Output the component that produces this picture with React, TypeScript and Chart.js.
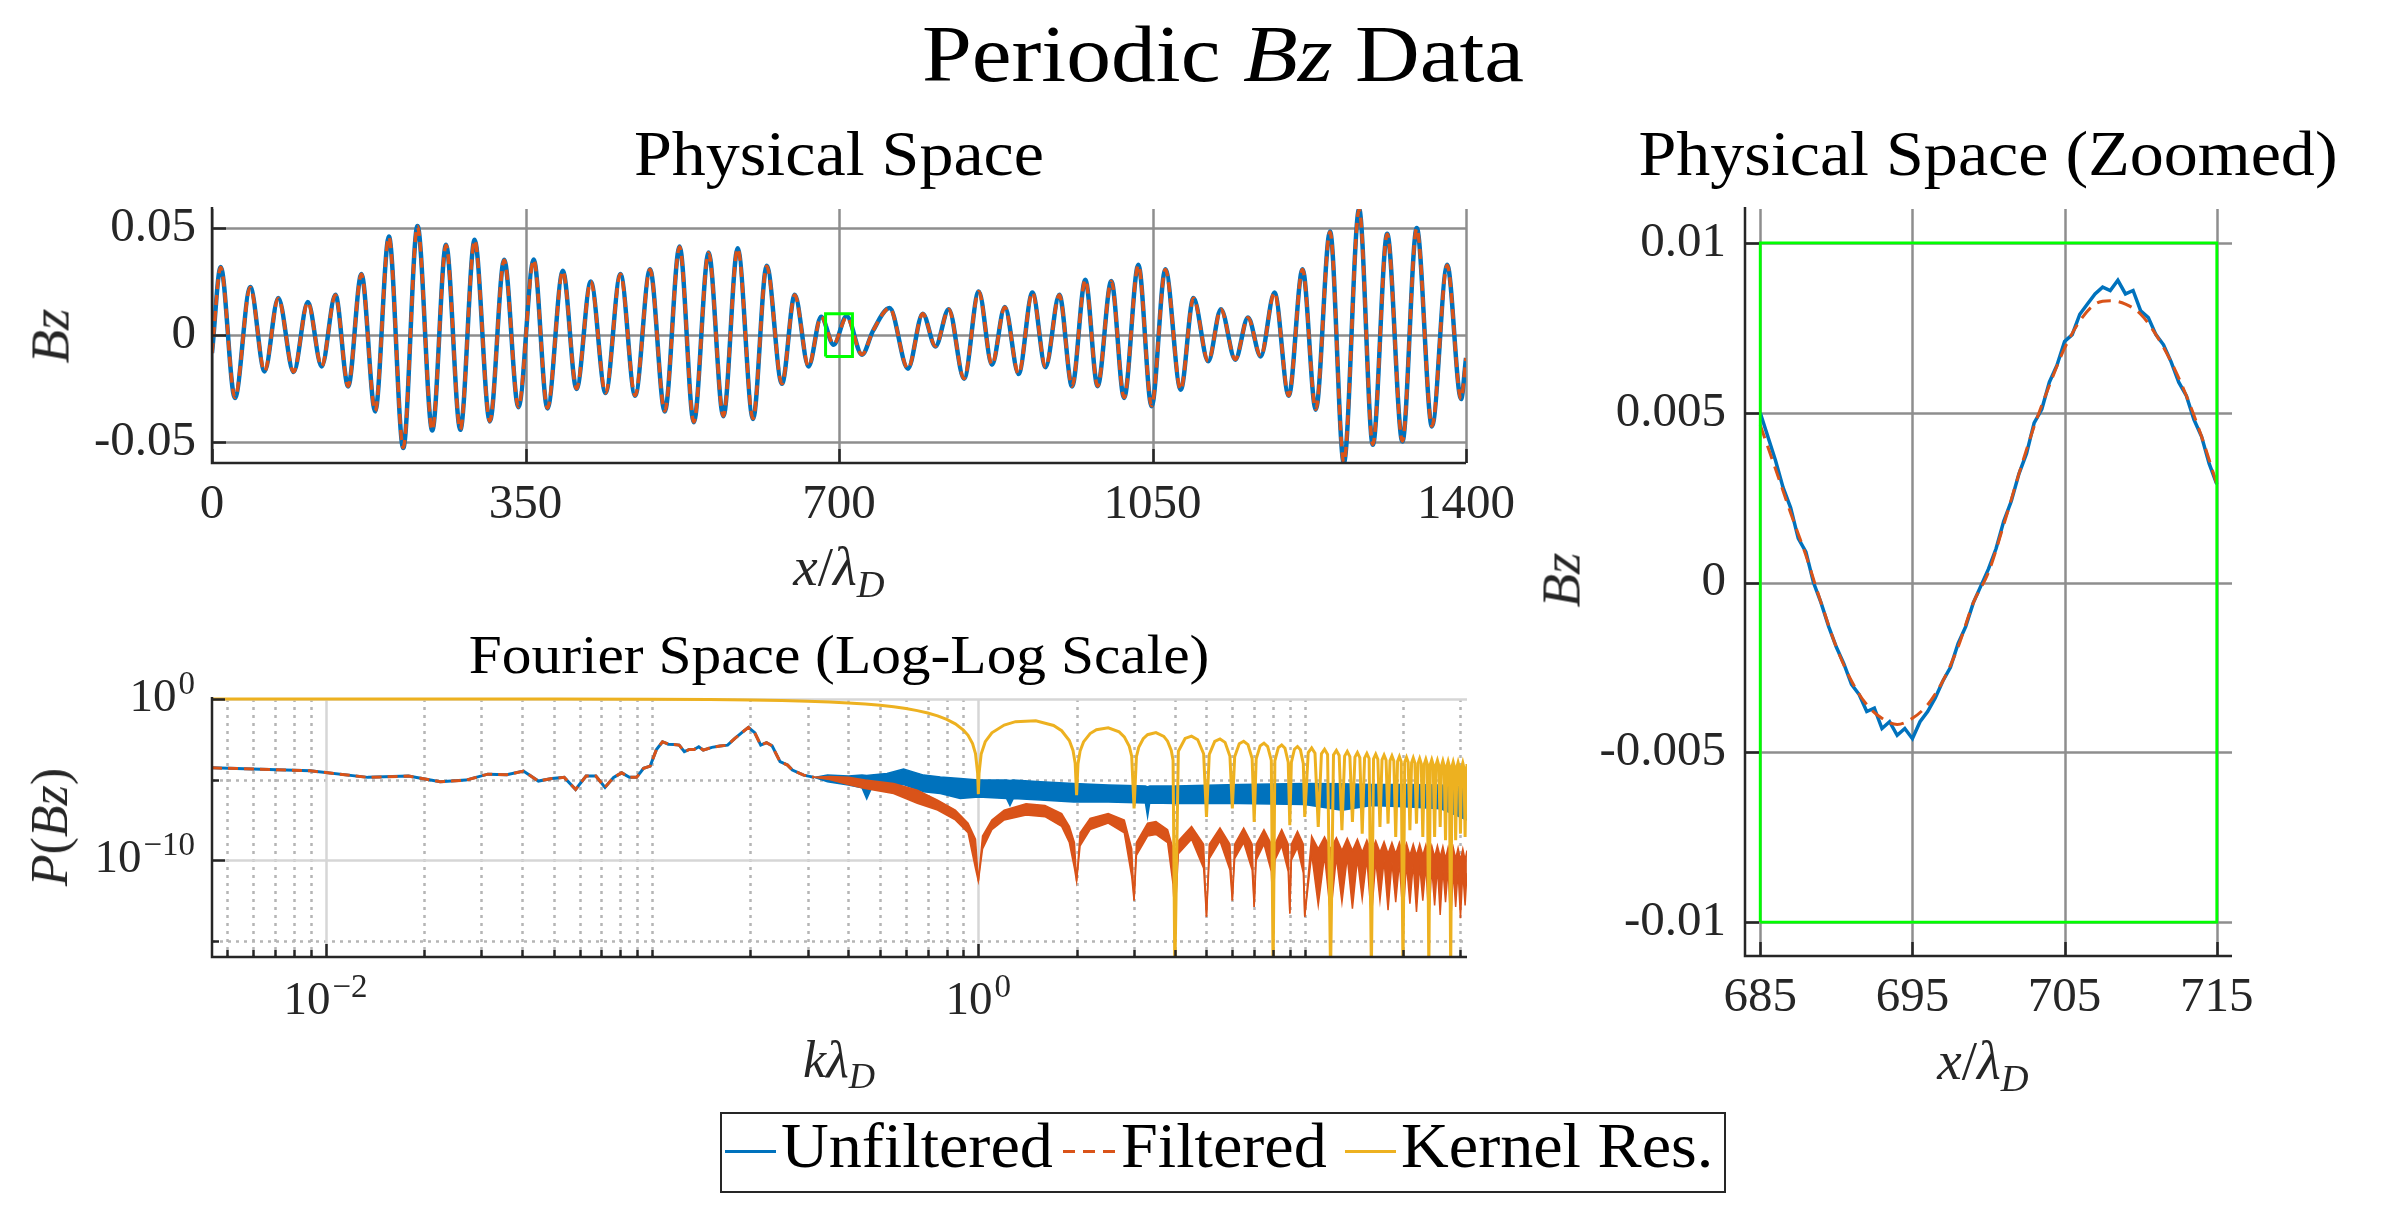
import React, { useEffect, useRef } from 'react';
import { Chart, registerables } from 'chart.js';

Chart.register(...registerables);

const W = 2400;
const H = 1206;
const FONT = '"Liberation Serif", "Times New Roman", serif';
const BLUE = '#0072BD';
const ORANGE = '#D95319';
const YELLOW = '#EDB120';
const GREEN = '#00FF00';
const AXIS = '#262626';

// ---------------- Physical space (extrema) ----------------
const physX = [0, 9.7, 25.6, 42.7, 58.7, 74, 91.1, 107, 122.4, 137.8, 152, 166.8, 182.2, 197.5, 213.5, 229.4, 245.9, 261.3, 277.2, 293.2, 310.2, 326.2, 342.1, 359.2, 374.5, 391.7, 407, 422.9, 439.4, 456, 472.4, 489, 505.5, 522, 537.9, 554.4, 570.9, 586.9, 604, 619.3, 636.3, 650.6, 666, 680, 694, 708.5, 725.7, 738, 756.5, 777, 793.5, 807.7, 822.5, 839.6, 856, 870.8, 885.1, 900.5, 915.9, 930.6, 946, 960.2, 975, 988.7, 1004, 1018.3, 1034.2, 1049, 1064.4, 1081.5, 1095.7, 1112.2, 1126.4, 1142.4, 1156.6, 1170.8, 1186.2, 1202.1, 1217.5, 1232.3, 1248.2, 1263.6, 1280.7, 1296, 1312, 1329, 1345, 1362, 1379, 1394.5, 1400];
const physUnfiltered = [-0.0084, 0.0318, -0.0294, 0.0224, -0.017, 0.0173, -0.0173, 0.0154, -0.0147, 0.0188, -0.024, 0.0285, -0.0357, 0.046, -0.0528, 0.051, -0.0446, 0.0422, -0.0443, 0.0445, -0.0404, 0.0352, -0.0338, 0.0353, -0.0343, 0.030, -0.0252, 0.025, -0.0271, 0.0285, -0.0284, 0.0308, -0.0357, 0.0414, -0.0408, 0.0386, -0.038, 0.0406, -0.0392, 0.0324, -0.0228, 0.0188, -0.0147, 0.0085, -0.0045, 0.0089, -0.0092, 0.002, 0.0126, -0.0157, 0.01, -0.0053, 0.0121, -0.0204, 0.0204, -0.0139, 0.0131, -0.0182, 0.0199, -0.015, 0.0188, -0.024, 0.0258, -0.0239, 0.0252, -0.0294, 0.0328, -0.0333, 0.0308, -0.0256, 0.0173, -0.0123, 0.0121, -0.0115, 0.0082, -0.01, 0.0199, -0.0284, 0.0308, -0.0349, 0.0484, -0.0598, 0.0589, -0.0513, 0.0473, -0.0497, 0.05, -0.0427, 0.0328, -0.0299, -0.0107];
const physFiltered = [-0.0084, 0.0316, -0.0292, 0.0222, -0.0169, 0.0172, -0.0172, 0.0153, -0.0146, 0.0187, -0.0239, 0.0284, -0.0355, 0.0458, -0.0526, 0.0508, -0.0444, 0.042, -0.0441, 0.0443, -0.0402, 0.035, -0.0336, 0.0351, -0.0341, 0.0298, -0.025, 0.0249, -0.027, 0.0284, -0.0283, 0.0306, -0.0355, 0.0412, -0.0406, 0.0384, -0.0378, 0.0404, -0.039, 0.0322, -0.0227, 0.0187, -0.0146, 0.0084, -0.0042, 0.0083, -0.0091, 0.002, 0.0125, -0.0156, 0.0099, -0.0052, 0.012, -0.0203, 0.0203, -0.0138, 0.013, -0.0181, 0.0198, -0.0149, 0.0187, -0.0239, 0.0257, -0.0238, 0.0251, -0.0292, 0.0326, -0.0331, 0.0306, -0.0255, 0.0172, -0.0122, 0.012, -0.0114, 0.0081, -0.0099, 0.0198, -0.0283, 0.0306, -0.0347, 0.0482, -0.0595, 0.0586, -0.0511, 0.0471, -0.0495, 0.0498, -0.0425, 0.0326, -0.0298, -0.0107];
const physXTicks = [0, 350, 700, 1050, 1400];
const physXLabels = ['0', '350', '700', '1050', '1400'];
const physYTicks = [-0.05, 0, 0.05];
const physYLabels = ['-0.05', '0', '0.05'];

// zoom window box
const boxX = [685, 715];
const boxY = [-0.01, 0.01];

// ---------------- Zoomed physical space ----------------
const zoomUnfX = [685, 685.5, 686, 686.5, 687, 687.5, 688, 688.5, 689, 689.5, 690, 690.5, 691, 691.5, 692, 692.5, 693, 693.5, 694, 694.5, 695, 695.5, 696, 696.5, 697, 697.5, 698, 698.5, 699, 699.5, 700, 700.5, 701, 701.5, 702, 702.5, 703, 703.5, 704, 704.5, 705, 705.5, 706, 706.5, 707, 707.5, 708, 708.5, 709, 709.5, 710, 710.5, 711, 711.5, 712, 712.5, 713, 713.5, 714, 714.5, 715];
const zoomUnfiltered = [0.005, 0.0043, 0.0036, 0.0028, 0.0022, 0.0013, 0.0009, 0.0, -0.0006, -0.0013, -0.0019, -0.0024, -0.003, -0.0033, -0.0038, -0.0037, -0.0043, -0.0041, -0.0045, -0.0043, -0.0046, -0.0041, -0.0038, -0.0034, -0.0029, -0.0025, -0.0018, -0.0013, -0.0006, -0.0001, 0.0004, 0.001, 0.0018, 0.0024, 0.0032, 0.0038, 0.0047, 0.0051, 0.0059, 0.0064, 0.0071, 0.0073, 0.0079, 0.0082, 0.0085, 0.0087, 0.0086, 0.0089, 0.0085, 0.0086, 0.008, 0.0078, 0.0073, 0.007, 0.0065, 0.0059, 0.0055, 0.0048, 0.0043, 0.0035, 0.0029];
const zoomFiltX = [685, 686, 687, 688, 689, 690, 691, 692, 693, 694, 695, 696, 697, 698, 699, 700, 701, 702, 703, 704, 705, 706, 707, 708, 709, 710, 711, 712, 713, 714, 715];
const zoomFiltered = [0.00464, 0.00335, 0.00205, 0.0008, -0.0006, -0.0019, -0.0029, -0.0036, -0.004, -0.00418, -0.004, -0.0036, -0.0029, -0.0019, -0.0006, 0.0003, 0.0017, 0.0032, 0.0046, 0.0058, 0.0069, 0.0077, 0.0082, 0.0083, 0.0082, 0.0079, 0.0073, 0.0065, 0.0055, 0.0043, 0.0029];
const zoomXTicks = [685, 695, 705, 715];
const zoomXLabels = ['685', '695', '705', '715'];
const zoomYTicks = [-0.01, -0.005, 0, 0.005, 0.01];
const zoomYLabels = ['-0.01', '-0.005', '0', '0.005', '0.01'];

// ---------------- Fourier space (log10 of power) ----------------
const lowK = [0.004488, 0.008976, 0.013464, 0.017952, 0.02244, 0.026928, 0.031416, 0.035904, 0.040392, 0.04488, 0.049368, 0.053856, 0.058344, 0.062832, 0.06732, 0.071808, 0.076296, 0.080784, 0.085272, 0.08976, 0.094248, 0.098736, 0.103224, 0.107712, 0.1122, 0.116688, 0.121176, 0.125664, 0.130152, 0.13464, 0.139128, 0.143616, 0.152592, 0.161568, 0.170544, 0.17952, 0.188496, 0.197472, 0.206448, 0.215424, 0.2244, 0.233376, 0.24684, 0.260304, 0.26928, 0.29172, 0.31416];
const lowLogP = [-4.27, -4.45, -4.86, -4.78, -5.13, -5.03, -4.66, -4.7, -4.47, -5.09, -4.93, -4.86, -5.61, -4.78, -4.78, -5.48, -4.86, -4.58, -4.86, -4.86, -4.3, -4.16, -3.13, -2.65, -2.8, -2.82, -2.86, -3.27, -3.13, -3.13, -2.96, -3.17, -3.0, -2.92, -2.86, -2.44, -2.09, -1.76, -2.09, -2.86, -2.71, -2.9, -3.89, -4.1, -4.41, -4.72, -4.86];

const blueBandK = [0.31416, 0.345, 0.4, 0.44, 0.455, 0.47, 0.525, 0.59, 0.68, 0.765, 0.88, 1.0, 1.22, 1.25, 1.28, 1.55, 1.96, 2.5, 3.25, 3.3, 3.35, 4.0, 6.3, 10.0, 13.0, 16.0, 21.0, 26.0, 29.0, 31.4];
const blueBandUpper = [-4.86, -4.72, -4.78, -4.72, -4.75, -4.72, -4.62, -4.35, -4.72, -4.83, -4.93, -5.03, -5.03, -5.05, -5.03, -5.13, -5.24, -5.34, -5.4, -5.45, -5.4, -5.4, -5.3, -5.24, -5.25, -5.3, -5.3, -5.34, -5.4, -5.6];
const blueBandLower = [-4.86, -5.13, -5.34, -5.5, -6.2, -5.55, -5.44, -5.3, -5.75, -5.86, -6.17, -6.07, -6.17, -6.6, -6.17, -6.27, -6.38, -6.38, -6.45, -7.3, -6.45, -6.48, -6.48, -6.55, -6.9, -6.6, -6.7, -6.8, -7.2, -7.5];

const orangeBandK = [0.31416, 0.35, 0.4, 0.45, 0.55, 0.65, 0.75, 0.85, 0.93, 0.98, 1.0, 1.03, 1.1, 1.2, 1.4, 1.6, 1.8, 1.9, 1.97, 2.0, 2.05, 2.2, 2.5, 2.8, 2.95, 3.0, 3.05, 3.3, 3.5, 3.8, 3.95, 4.0, 4.1, 4.5, 4.9, 5.0, 5.1, 5.5, 5.9, 6.0, 6.1, 6.5, 6.9, 7.0, 7.1, 7.5, 7.9, 8.0, 8.1, 8.5, 8.9, 9.0, 9.1, 9.5, 9.9, 10.0, 10.5, 11, 11.5, 12, 12.5, 13, 13.5, 14, 14.5, 15, 15.5, 16, 16.5, 17, 17.5, 18, 18.5, 19, 19.5, 20, 20.5, 21, 21.5, 22, 22.5, 23, 23.5, 24, 24.5, 25, 25.5, 26, 26.5, 27, 27.5, 28, 28.5, 29, 29.5, 30, 30.5, 31, 31.4];
const orangeBandUpper = [-4.86, -4.8, -4.85, -5.03, -5.24, -5.65, -6.27, -6.89, -7.7, -8.7, -11.3, -8.5, -7.5, -6.9, -6.5, -6.6, -7.1, -7.9, -8.9, -11.3, -8.3, -7.4, -7.1, -7.5, -9.3, -12.5, -8.9, -7.7, -7.6, -8.1, -9.3, -13.7, -8.8, -7.9, -9.0, -13.5, -9.0, -8.0, -9.0, -12.5, -9.0, -8.0, -9.0, -12.9, -9.0, -8.1, -9.0, -13.5, -9.0, -8.1, -9.0, -13.3, -9.0, -8.2, -9.0, -13.5, -8.5, -9.3, -8.55, -9.3, -8.6, -9.4, -8.65, -9.4, -8.7, -9.5, -8.75, -9.5, -8.8, -9.5, -8.85, -9.6, -8.9, -9.6, -8.9, -9.6, -8.95, -9.7, -9.0, -9.7, -9.0, -9.7, -9.05, -9.8, -9.1, -9.8, -9.1, -9.8, -9.15, -9.9, -9.2, -9.9, -9.2, -9.9, -9.25, -10.0, -9.3, -10.0, -9.4];
const orangeBandLower = [-4.86, -5.0, -5.3, -5.55, -5.86, -6.47, -6.89, -7.5, -8.3, -10.5, -11.3, -9.3, -8.1, -7.5, -7.2, -7.3, -7.9, -8.9, -10.5, -11.3, -9.1, -8.1, -7.7, -8.3, -11.0, -12.5, -9.7, -8.5, -8.4, -8.9, -11.5, -13.7, -9.6, -8.7, -10.5, -13.5, -9.9, -8.8, -10.6, -12.5, -9.9, -8.9, -10.6, -12.9, -10.0, -9.0, -10.7, -13.5, -10.0, -9.1, -10.7, -13.3, -10.0, -9.2, -10.8, -13.5, -9.6, -12.8, -9.7, -13.4, -9.8, -12.6, -9.8, -13.0, -9.9, -12.4, -9.9, -13.6, -10.0, -12.5, -10.0, -13.1, -10.1, -12.6, -10.1, -13.5, -10.2, -12.7, -10.2, -13.2, -10.3, -12.5, -10.3, -13.7, -10.4, -12.8, -10.4, -13.4, -10.5, -12.6, -10.5, -14.0, -10.6, -12.9, -10.6, -13.6, -10.7, -12.8, -10.8];

const kernelK = [0.004488, 0.02, 0.05, 0.1, 0.15, 0.2, 0.25, 0.3, 0.35, 0.4, 0.45, 0.5, 0.55, 0.6, 0.65, 0.7, 0.75, 0.8, 0.85, 0.9, 0.93, 0.96, 0.98, 0.995, 1.0, 1.005, 1.02, 1.05, 1.1, 1.2, 1.3, 1.5, 1.7, 1.8, 1.9, 1.95, 1.98, 2.0, 2.02, 2.05, 2.1, 2.2, 2.3, 2.5, 2.7, 2.8, 2.9, 2.95, 3.0, 3.05, 3.1, 3.2, 3.3, 3.5, 3.7, 3.8, 3.9, 3.95, 4.0, 4.1, 4.3, 4.5, 4.7, 4.9, 5.0, 5.1, 5.3, 5.5, 5.7, 5.9, 6.0, 6.1, 6.3, 6.5, 6.7, 6.9, 7.0, 7.1, 7.3, 7.5, 7.7, 7.9, 8.0, 8.1, 8.3, 8.5, 8.7, 8.9, 9.0, 9.1, 9.3, 9.5, 9.7, 9.9, 10.0, 10.25, 10.5, 10.75, 11, 11.25, 11.5, 11.75, 12, 12.25, 12.5, 12.75, 13, 13.25, 13.5, 13.75, 14, 14.25, 14.5, 14.75, 15, 15.25, 15.5, 15.75, 16, 16.25, 16.5, 16.75, 17, 17.25, 17.5, 17.75, 18, 18.25, 18.5, 18.75, 19, 19.25, 19.5, 19.75, 20, 20.25, 20.5, 20.75, 21, 21.25, 21.5, 21.75, 22, 22.25, 22.5, 22.75, 23, 23.25, 23.5, 23.75, 24, 24.25, 24.5, 24.75, 25, 25.25, 25.5, 25.75, 26, 26.25, 26.5, 26.75, 27, 27.25, 27.5, 27.75, 28, 28.25, 28.5, 28.75, 29, 29.25, 29.5, 29.75, 30, 30.25, 30.5, 30.75, 31, 31.25, 31.4];
const kernelLogP = [0, -0.0006, -0.0036, -0.0143, -0.0325, -0.058, -0.0912, -0.1325, -0.1827, -0.2418, -0.3115, -0.3922, -0.4858, -0.5941, -0.7204, -0.8686, -1.0455, -1.262, -1.539, -1.9226, -2.254, -2.763, -3.381, -4.598, -5.9, -4.607, -3.416, -2.648, -2.097, -1.614, -1.406, -1.3465, -1.639, -1.966, -2.572, -3.185, -3.992, -5.96, -4.009, -3.229, -2.659, -2.141, -1.902, -1.79, -2.041, -2.35, -2.939, -3.545, -6.79, -3.574, -2.997, -2.466, -2.215, -2.082, -2.315, -2.616, -3.196, -3.799, -17, -3.24, -2.446, -2.301, -2.523, -3.395, -7.31, -3.429, -2.627, -2.475, -2.69, -3.556, -6.79, -3.585, -2.777, -2.62, -2.831, -3.692, -7.62, -3.717, -2.905, -2.744, -2.951, -3.81, -17, -3.831, -3.017, -2.853, -3.058, -3.913, -7.83, -3.932, -3.115, -2.95, -3.152, -4.005, -7.31, -3.317, -3.037, -3.358, -7.93, -3.398, -3.116, -3.435, -17, -3.471, -3.188, -3.506, -8.14, -3.54, -3.255, -3.572, -7.62, -3.602, -3.317, -3.632, -8.35, -3.661, -3.375, -3.69, -17, -3.717, -3.429, -3.743, -7.93, -3.769, -3.48, -3.794, -7.73, -3.818, -3.529, -3.841, -8.55, -3.864, -3.574, -3.886, -17, -3.908, -3.618, -3.929, -8.14, -3.95, -3.659, -3.97, -7.73, -3.99, -3.699, -4.009, -8.55, -4.028, -3.737, -4.046, -17, -4.064, -3.773, -4.082, -8.55, -4.099, -3.807, -4.117, -7.93, -4.133, -3.841, -4.15, -8.76, -4.166, -3.873, -4.182, -17, -4.197, -3.904, -4.213, -8.76, -4.228, -3.934, -4.243, -8.35, -4.257, -3.963, -4.271, -8.55, -4.285, -4.032];

const fourierXMajor = [0.01, 1];
const fourierXMinor = [0.005, 0.006, 0.007, 0.008, 0.009, 0.02, 0.03, 0.04, 0.05, 0.06, 0.07, 0.08, 0.09, 0.1, 0.2, 0.3, 0.4, 0.5, 0.6, 0.7, 0.8, 0.9, 2, 3, 4, 5, 6, 7, 8, 9, 10, 20, 30];
const fourierYMajor = [1, 1e-10];
const fourierYMinor = [1e-5, 1e-15];
const fourierXLabels = [{ v: 0.01, exp: '\u22122' }, { v: 1, exp: '0' }];
const fourierYLabels = [{ v: 1, exp: '0' }, { v: 1e-10, exp: '\u221210' }];

const legendNames = ['Unfiltered', 'Filtered', 'Kernel Res.'];

// ---------------- helpers ----------------
const toPts = (xs: number[], ys: number[]) => xs.map((x, i) => ({ x, y: ys[i] }));
const toLogPts = (xs: number[], es: number[]) => xs.map((x, i) => ({ x, y: Math.pow(10, es[i]) }));
const boxPts = () => [
  { x: boxX[0], y: boxY[0] }, { x: boxX[1], y: boxY[0] }, { x: boxX[1], y: boxY[1] },
  { x: boxX[0], y: boxY[1] }, { x: boxX[0], y: boxY[0] },
];

const PHYS_AREA = { left: 212, top: 209, right: 1466, bottom: 463 };
const FOUR_AREA = { left: 212, top: 699, right: 1467, bottom: 957 };
const ZOOM_AREA = { left: 1745, top: 209, right: 2232, bottom: 956 };

const matlabAxes: any = {
  id: 'matlabAxes',
  beforeDatasetsDraw(chart: any, _a: any, o: any) {
    const { ctx, chartArea: a } = chart;
    const xs = chart.scales.x;
    const ys = chart.scales.y;
    ctx.save();
    const v = (val: number, color: string, w: number, dash: number[]) => {
      const p = Math.round(xs.getPixelForValue(val)) + 0.5;
      ctx.beginPath();
      ctx.setLineDash(dash);
      ctx.strokeStyle = color;
      ctx.lineWidth = w;
      ctx.moveTo(p, a.top);
      ctx.lineTo(p, a.bottom);
      ctx.stroke();
    };
    const h = (val: number, color: string, w: number, dash: number[]) => {
      const p = Math.round(ys.getPixelForValue(val)) + 0.5;
      ctx.beginPath();
      ctx.setLineDash(dash);
      ctx.strokeStyle = color;
      ctx.lineWidth = w;
      ctx.moveTo(a.left, p);
      ctx.lineTo(a.right, p);
      ctx.stroke();
    };
    (o.xMinor || []).forEach((x: number) => v(x, o.minorColor, o.minorWidth, o.minorDash));
    (o.yMinor || []).forEach((y: number) => h(y, o.minorColor, o.minorWidth, o.minorDash));
    (o.xMajor || []).forEach((x: number) => v(x, o.majorColor, o.majorWidth, []));
    (o.yMajor || []).forEach((y: number) => h(y, o.majorColor, o.majorWidth, []));
    ctx.restore();
  },
  afterDatasetsDraw(chart: any, _a: any, o: any) {
    const { ctx, chartArea: a } = chart;
    const xs = chart.scales.x;
    const ys = chart.scales.y;
    ctx.save();
    ctx.setLineDash([]);
    ctx.strokeStyle = AXIS;
    ctx.lineWidth = o.axisWidth;
    ctx.beginPath();
    ctx.moveTo(a.left, a.top - 2);
    ctx.lineTo(a.left, a.bottom);
    ctx.lineTo(a.right, a.bottom);
    ctx.stroke();
    const tick = (list: number[], len: number, horiz: boolean) => {
      list.forEach((val) => {
        ctx.beginPath();
        if (horiz) {
          const p = Math.round(xs.getPixelForValue(val)) + 0.5;
          ctx.moveTo(p, a.bottom);
          ctx.lineTo(p, a.bottom - len);
        } else {
          const p = Math.round(ys.getPixelForValue(val)) + 0.5;
          ctx.moveTo(a.left, p);
          ctx.lineTo(a.left + len, p);
        }
        ctx.stroke();
      });
    };
    tick(o.xMajor || [], o.majorLen, true);
    tick(o.xMinor || [], o.minorLen, true);
    tick(o.yMajor || [], o.majorLen, false);
    tick(o.yMinor || [], o.minorLen, false);

    const pow = (x: number, yb: number, exp: string, align: string) => {
      const bf = `${o.labelSize}px ${FONT}`;
      const ef = `${o.expSize}px ${FONT}`;
      ctx.font = bf;
      const wb = ctx.measureText('10').width;
      ctx.font = ef;
      const we = ctx.measureText(exp).width;
      const total = wb + 2 + we;
      const x0 = align === 'right' ? x - total : x - total / 2;
      ctx.fillStyle = AXIS;
      ctx.textAlign = 'left';
      ctx.textBaseline = 'alphabetic';
      ctx.font = bf;
      ctx.fillText('10', x0, yb);
      ctx.font = ef;
      ctx.fillText(exp, x0 + wb + 2, yb - o.expRaise);
    };
    (o.yLabels || []).forEach((l: any) => {
      const p = ys.getPixelForValue(l.v);
      pow(a.left - o.yLabelPad, p + o.yBaseOff, l.exp, 'right');
    });
    (o.xLabels || []).forEach((l: any) => {
      const p = xs.getPixelForValue(l.v);
      pow(p, a.bottom + o.xBaseOff, l.exp, 'center');
    });
    ctx.restore();
  },
};

const linScale = (min: number, max: number, ticks: number[], labels: string[], pad: number) => ({
  type: 'linear',
  min,
  max,
  grid: { display: false, drawTicks: false },
  border: { display: false },
  ticks: {
    autoSkip: false,
    maxRotation: 0,
    minRotation: 0,
    padding: pad,
    color: AXIS,
    font: { family: FONT, size: 49 },
    callback: (_v: any, i: number) => labels[i],
  },
  afterBuildTicks: (s: any) => {
    s.ticks = ticks.map((t) => ({ value: t }));
  },
});

const logScale = (min: number, max: number) => ({
  type: 'logarithmic',
  min,
  max,
  grid: { display: false, drawTicks: false },
  border: { display: false },
  ticks: { display: false },
});

const makeOptions = (area: any, xScale: any, yScale: any, plug: any) => ({
  responsive: false,
  animation: false,
  devicePixelRatio: 1,
  events: [],
  layout: { padding: { left: 0, top: area.top, right: W - area.right, bottom: 0 } },
  plugins: {
    legend: { display: false },
    tooltip: { enabled: false },
    title: { display: false },
    matlabAxes: plug,
  },
  elements: { point: { radius: 0 } },
  scales: {
    x: { ...xScale, afterFit: (s: any) => { s.height = H - area.bottom; } },
    y: { ...yScale, afterFit: (s: any) => { s.width = area.left; } },
  },
});

const linPlug = (xt: number[], yt: number[]) => ({
  xMajor: xt, yMajor: yt, majorColor: '#8e8e8e', majorWidth: 2.5,
  axisWidth: 2.5, majorLen: 14, minorLen: 7,
});

function physConfig(): any {
  return {
    type: 'line',
    data: {
      datasets: [
        { data: toPts(physX, physUnfiltered), borderColor: BLUE, borderWidth: 4.5, cubicInterpolationMode: 'monotone', order: 3 },
        { data: toPts(physX, physFiltered), borderColor: ORANGE, borderWidth: 3.5, borderDash: [10, 6], cubicInterpolationMode: 'monotone', order: 2 },
        { data: boxPts(), borderColor: GREEN, borderWidth: 3, tension: 0, order: 1 },
      ],
    },
    options: makeOptions(
      PHYS_AREA,
      linScale(0, 1400, physXTicks, physXLabels, 13),
      linScale(-0.0598, 0.0589, physYTicks, physYLabels, 16),
      linPlug(physXTicks, physYTicks),
    ),
    plugins: [matlabAxes],
  };
}

function zoomConfig(): any {
  return {
    type: 'line',
    data: {
      datasets: [
        { data: toPts(zoomUnfX, zoomUnfiltered), borderColor: BLUE, borderWidth: 3.5, tension: 0, order: 3 },
        { data: toPts(zoomFiltX, zoomFiltered), borderColor: ORANGE, borderWidth: 3, borderDash: [14, 8], cubicInterpolationMode: 'monotone', order: 2 },
        { data: boxPts(), borderColor: GREEN, borderWidth: 2.8, tension: 0, order: 1 },
      ],
    },
    options: makeOptions(
      ZOOM_AREA,
      linScale(684, 716, zoomXTicks, zoomXLabels, 13),
      linScale(-0.011, 0.011, zoomYTicks, zoomYLabels, 19),
      linPlug(zoomXTicks, zoomYTicks),
    ),
    plugins: [matlabAxes],
  };
}

function fourierConfig(): any {
  return {
    type: 'line',
    data: {
      datasets: [
        { data: toLogPts(kernelK, kernelLogP), borderColor: YELLOW, borderWidth: 3, tension: 0, order: 1, clip: { left: 0, right: 0, top: 4, bottom: 0 } },
        { data: toLogPts(lowK, lowLogP), borderColor: ORANGE, borderWidth: 3, borderDash: [10, 6], tension: 0, order: 2 },
        { data: toLogPts(orangeBandK, orangeBandUpper), borderColor: ORANGE, backgroundColor: ORANGE, borderWidth: 1.5, tension: 0, fill: '+1', order: 3 },
        { data: toLogPts(orangeBandK, orangeBandLower), borderColor: ORANGE, borderWidth: 1.5, tension: 0, fill: false, order: 3 },
        { data: toLogPts(lowK, lowLogP), borderColor: BLUE, borderWidth: 3, tension: 0, order: 4 },
        { data: toLogPts(blueBandK, blueBandUpper), borderColor: BLUE, backgroundColor: BLUE, borderWidth: 1.5, tension: 0, fill: '+1', order: 5 },
        { data: toLogPts(blueBandK, blueBandLower), borderColor: BLUE, borderWidth: 1.5, tension: 0, fill: false, order: 5 },
      ],
    },
    options: makeOptions(
      FOUR_AREA,
      logScale(0.004488, 31.416),
      logScale(1e-16, 1),
      {
        xMajor: fourierXMajor, xMinor: fourierXMinor, yMajor: fourierYMajor, yMinor: fourierYMinor,
        majorColor: '#d6d6d6', majorWidth: 2.5, minorColor: '#b5b5b5', minorWidth: 2.5, minorDash: [3, 5],
        axisWidth: 2.5, majorLen: 13, minorLen: 7,
        labelSize: 47, expSize: 33, expRaise: 17,
        yLabels: fourierYLabels, yLabelPad: 17, yBaseOff: 12,
        xLabels: fourierXLabels, xBaseOff: 57,
      },
    ),
    plugins: [matlabAxes],
  };
}

const Txt = (p: { x: number; y: number; size: number; rot?: number; sx?: number; color?: string; children: any }) => (
  <div
    style={{
      position: 'absolute',
      left: p.x,
      top: p.y,
      fontSize: p.size,
      lineHeight: 1,
      whiteSpace: 'nowrap',
      color: p.color || '#000',
      fontFamily: FONT,
      transform: `translate(-50%, -50%) rotate(${p.rot || 0}deg) scaleX(${p.sx || 1})`,
    }}
  >
    {p.children}
  </div>
);

const Sub = (p: { children: any }) => (
  <span style={{ fontSize: '0.7em', position: 'relative', top: '0.3em' }}>{p.children}</span>
);

export default function App() {
  const c1 = useRef<HTMLCanvasElement>(null);
  const c2 = useRef<HTMLCanvasElement>(null);
  const c3 = useRef<HTMLCanvasElement>(null);

  useEffect(() => {
    Chart.defaults.font.family = FONT;
    const charts: Chart[] = [];
    if (c1.current) charts.push(new Chart(c1.current, physConfig()));
    if (c2.current) charts.push(new Chart(c2.current, fourierConfig()));
    if (c3.current) charts.push(new Chart(c3.current, zoomConfig()));
    return () => charts.forEach((c) => c.destroy());
  }, []);

  const cv = { position: 'absolute' as const, left: 0, top: 0, width: W, height: H };
  const legendLine = (left: number, width: number, bg: string) => (
    <div style={{ position: 'absolute', left, top: 1150, width, height: 3, background: bg }} />
  );
  const legendText = (left: number, text: string) => (
    <div
      style={{
        position: 'absolute', left, top: 1146, fontSize: 63, lineHeight: 1, fontFamily: FONT,
        whiteSpace: 'nowrap', transform: 'translateY(-50%) scaleX(1.05)', transformOrigin: 'left center', color: '#000',
      }}
    >
      {text}
    </div>
  );

  return (
    <div style={{ position: 'fixed', left: 0, top: 0, width: W, height: H, background: '#fff', overflow: 'hidden' }}>
      <canvas ref={c1} width={W} height={H} style={cv} />
      <canvas ref={c2} width={W} height={H} style={cv} />
      <canvas ref={c3} width={W} height={H} style={cv} />

      <Txt x={1223} y={54} size={80} sx={1.12}>
        Periodic <i>Bz</i> Data
      </Txt>
      <Txt x={839} y={154} size={63} sx={1.08}>Physical Space</Txt>
      <Txt x={1988} y={154} size={63} sx={1.08}>Physical Space (Zoomed)</Txt>
      <Txt x={839} y={654} size={55} sx={1.08}>Fourier Space (Log-Log Scale)</Txt>

      <Txt x={50} y={336} size={55} rot={-90} color={AXIS}><i>Bz</i></Txt>
      <Txt x={839} y={566} size={55} color={AXIS}>
        <i>x</i>/<i>λ</i><Sub><i>D</i></Sub>
      </Txt>
      <Txt x={50} y={827} size={52} rot={-90} color={AXIS}>
        <i>P</i>(<i>Bz</i>)
      </Txt>
      <Txt x={839} y={1060} size={52} color={AXIS}>
        <i>kλ</i><Sub><i>D</i></Sub>
      </Txt>
      <Txt x={1561} y={580} size={55} rot={-90} color={AXIS}><i>Bz</i></Txt>
      <Txt x={1983} y={1060} size={55} color={AXIS}>
        <i>x</i>/<i>λ</i><Sub><i>D</i></Sub>
      </Txt>

      <div
        style={{
          position: 'absolute', left: 720, top: 1112, width: 1006, height: 81, boxSizing: 'border-box',
          border: `2.5px solid ${AXIS}`, background: '#fff',
        }}
      />
      {legendLine(725, 51, BLUE)}
      {legendText(781, legendNames[0])}
      {legendLine(1063, 54, `repeating-linear-gradient(90deg, ${ORANGE} 0px, ${ORANGE} 12px, transparent 12px, transparent 20px)`)}
      {legendText(1121, legendNames[1])}
      {legendLine(1345, 51, YELLOW)}
      {legendText(1401, legendNames[2])}
    </div>
  );
}
